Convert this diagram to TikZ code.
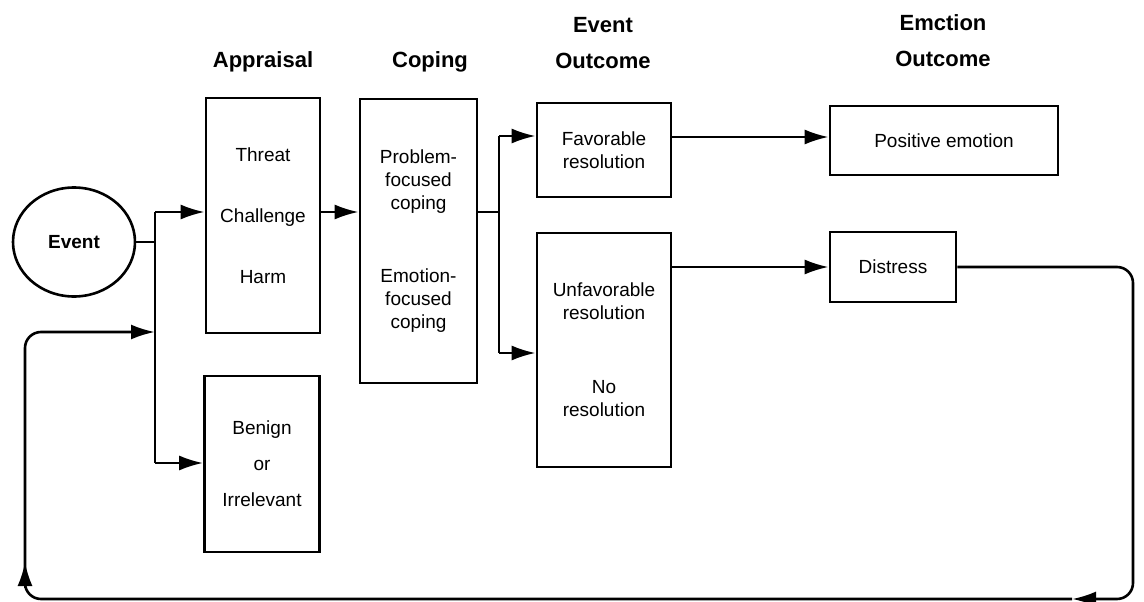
\documentclass[tikz,border=0pt]{standalone}
\usepackage{fontspec}
\setmainfont{Liberation Sans}
\usetikzlibrary{arrows.meta,shapes.geometric}
\tikzset{
  box/.style={draw,line width=2.6pt,rectangle,inner sep=0pt,align=center,font=\fontsize{19}{23}\selectfont},
  hdr/.style={font=\fontsize{22}{36}\selectfont\bfseries,align=center,inner sep=0pt},
  conn/.style={line width=2.6pt},
  arr/.style={conn,-{Latex[length=24pt,width=15pt]}}
}
\begin{document}
\begin{tikzpicture}[x=1pt,y=-1pt]
\useasboundingbox (0,0) rectangle (1144,602);
% headers
\node[hdr] (h1) at (263,62) {Appraisal};
\node[hdr] (h2) at (430,62) {Coping};
\node[hdr] (h3) at (603,43) {Event\\Outcome};
\node[hdr] (h4) at (943,41) {Emction\\Outcome};
% nodes
\node[draw,ellipse,line width=2.6pt,minimum width=122pt,minimum height=109pt,inner sep=0pt,font=\fontsize{19}{23}\selectfont\bfseries] (ev) at (74,242) {Event};
\node[box,minimum width=114pt,minimum height=235pt] (appr) at (263,215.5) {Threat\\[38pt]Challenge\\[38pt]Harm};
\node[box,minimum width=115pt,minimum height=176pt] (ben) at (262,464) {Benign\\[13pt]or\\[13pt]Irrelevant};
\node[box,minimum width=117pt,minimum height=284pt] (cop) at (418.5,241) {Problem-\\focused\\coping\\[50pt]Emotion-\\focused\\coping};
\node[box,minimum width=134pt,minimum height=94pt] (fav) at (604,150) {Favorable\\resolution};
\node[box,minimum width=134pt,minimum height=234pt] (unf) at (604,350) {Unfavorable\\resolution\\[51pt]No\\resolution};
\node[box,minimum width=228pt,minimum height=69pt] (pos) at (944,140.5) {Positive emotion};
\node[box,minimum width=126pt,minimum height=70pt] (dis) at (893,267) {Distress};
% junction coordinates
\coordinate (s1) at (155,242);
\coordinate (s1t) at (155,212);
\coordinate (s1b) at (155,463);
\coordinate (s1l) at (155,332);
\coordinate (s2) at (499,212);
\coordinate (s2t) at (499,136);
\coordinate (s2b) at (499,353);
\coordinate (rtop) at (1133,267);
\coordinate (rbot) at (1133,599);
\coordinate (bm) at (1072,599);
\coordinate (lbot) at (25,599);
\coordinate (lmb) at (25,588);
\coordinate (lm) at (25,562);
\coordinate (ltop) at (25,332);
% connectors
\draw[conn] (ev.east) -- (s1);
\draw[conn] (s1t) -- (s1b);
\draw[arr] (s1t) -- (s1t -| appr.west);
\draw[arr] (s1b) -- (s1b -| ben.west);
\draw[arr] (appr.east |- s1t) -- (cop.west |- s1t);
\draw[conn] (cop.east |- s2) -- (s2);
\draw[conn] (s2t) -- (s2b);
\draw[arr] (s2t) -- (s2t -| fav.west);
\draw[arr] (s2b) -- (s2b -| unf.west);
\draw[arr] (fav.east |- 0,137) -- (pos.west |- 0,137);
\draw[arr] (unf.east |- dis.west) -- (dis.west);
% feedback loop
\draw[arr,rounded corners=16pt] (dis.east) -- (rtop) -- (rbot) -- (bm);
\draw[arr,rounded corners=16pt] (bm) -- (lbot) -- (ltop) -- (s1l);
\draw[arr] (lmb) -- (lm);
\end{tikzpicture}
\end{document}
